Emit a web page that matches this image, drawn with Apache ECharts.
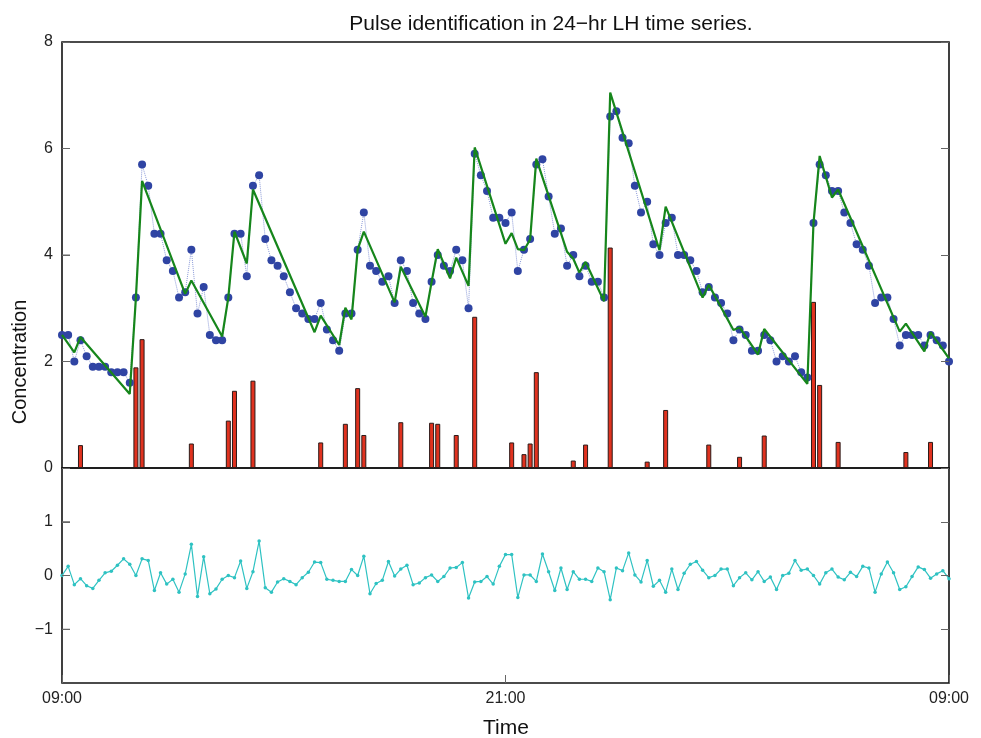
<!DOCTYPE html>
<html>
<head>
<meta charset="utf-8">
<title>Pulse identification in 24-hr LH time series</title>
<script src="https://cdn.jsdelivr.net/npm/echarts@6/dist/echarts.min.js"></script>
<style>
  html, body { margin: 0; padding: 0; background: #fff; }
  #chart { width: 981px; height: 738px; }
</style>
</head>
<body>
<div id="chart"></div>
<script>
// samples every 10 min, index 0 = 09:00, 144 = 09:00 next day
const tickLabels = ['09:00', '21:00', '09:00'];
const topTicks = [2, 4, 6];
const residTicks = [-1, 0, 1];

// observed LH concentration (blue dots)
const observed = [
  2.5, 2.5, 2.0, 2.4, 2.1, 1.9, 1.9, 1.9, 1.8, 1.8, 1.8, 1.6, 3.2, 5.7, 5.3, 4.4, 4.4, 3.9, 3.7, 3.2,
  3.3, 4.1, 2.9, 3.4, 2.5, 2.4, 2.4, 3.2, 4.4, 4.4, 3.6, 5.3, 5.5, 4.3, 3.9, 3.8, 3.6, 3.3, 3.0, 2.9,
  2.8, 2.8, 3.1, 2.6, 2.4, 2.2, 2.9, 2.9, 4.1, 4.8, 3.8, 3.7, 3.5, 3.6, 3.1, 3.9, 3.7, 3.1, 2.9, 2.8,
  3.5, 4.0, 3.8, 3.7, 4.1, 3.9, 3.0, 5.9, 5.5, 5.2, 4.7, 4.7, 4.6, 4.8, 3.7, 4.1, 4.3, 5.7, 5.8, 5.1,
  4.4, 4.5, 3.8, 4.0, 3.6, 3.8, 3.5, 3.5, 3.2, 6.6, 6.7, 6.2, 6.1, 5.3, 4.8, 5.0, 4.2, 4.0, 4.6, 4.7,
  4.0, 4.0, 3.9, 3.7, 3.3, 3.4, 3.2, 3.1, 2.9, 2.4, 2.6, 2.5, 2.2, 2.2, 2.5, 2.4, 2.0, 2.1, 2.0, 2.1,
  1.8, 1.7, 4.6, 5.7, 5.5, 5.2, 5.2, 4.8, 4.6, 4.2, 4.1, 3.8, 3.1, 3.2, 3.2, 2.8, 2.3, 2.5, 2.5, 2.5,
  2.3, 2.5, 2.4, 2.3, 2.0
];

// fitted curve, corner points [sample index, value] (green line)
const fitCorners = [
  [0, 2.50], [2, 2.17], [3, 2.46], [11, 1.39], [12, 3.20], [13, 5.39], [20, 3.27], [21, 3.52],
  [26, 2.47], [27, 3.20], [28, 4.44], [30, 3.84], [31, 5.23], [41, 2.55], [42, 2.86], [45, 2.31],
  [46, 3.01], [47, 2.79], [48, 4.10], [49, 4.44], [54, 3.11], [55, 3.78], [59, 2.84], [60, 3.49],
  [61, 4.11], [63, 3.56], [64, 3.95], [66, 3.42], [67, 6.02], [72, 4.21], [73, 4.41], [74, 4.11],
  [75, 4.09], [76, 4.29], [77, 5.81], [82, 4.06], [83, 3.93], [84, 3.67], [85, 3.87], [88, 3.13],
  [89, 7.05], [97, 4.09], [98, 4.91], [104, 3.20], [105, 3.44], [109, 2.59], [110, 2.64], [113, 2.13],
  [114, 2.61], [121, 1.58], [122, 4.60], [123, 5.86], [125, 5.08], [126, 5.23], [136, 2.56], [137, 2.71],
  [140, 2.19], [141, 2.55], [144, 2.06]
];

// identified pulses (red bars)
const pulseIndex = [3, 12, 13, 21, 27, 28, 31, 42, 46, 48, 49, 55, 60, 61, 64, 67, 73, 75, 76, 77,
  83, 85, 89, 95, 98, 105, 110, 114, 122, 123, 126, 137, 141];
const pulseSize = [0.43, 1.89, 2.42, 0.46, 0.89, 1.45, 1.64, 0.48, 0.83, 1.50, 0.62, 0.86, 0.85, 0.83, 0.62, 2.84, 0.48, 0.26, 0.46, 1.80,
  0.14, 0.44, 4.14, 0.12, 1.09, 0.44, 0.21, 0.61, 3.12, 1.56, 0.49, 0.30, 0.49];

// residuals (lower panel)
const residuals = [
  0.00, 0.17, -0.17, -0.06, -0.19, -0.24, -0.09, 0.05, 0.08, 0.19, 0.31, 0.21, 0.00, 0.31, 0.28, -0.28, 0.05, -0.16, -0.07, -0.31,
  0.03, 0.58, -0.39, 0.35, -0.34, -0.25, -0.07, 0.00, -0.04, 0.27, -0.24, 0.07, 0.64, -0.23, -0.31, -0.12, -0.06, -0.11, -0.17, -0.04,
  0.06, 0.25, 0.24, -0.07, -0.09, -0.11, -0.11, 0.11, 0.00, 0.36, -0.34, -0.15, -0.09, 0.26, -0.01, 0.12, 0.19, -0.17, -0.14, -0.04,
  0.01, -0.11, -0.02, 0.14, 0.15, 0.24, -0.42, -0.12, -0.11, -0.02, -0.16, 0.17, 0.39, 0.39, -0.41, 0.01, 0.01, -0.11, 0.40, 0.07,
  -0.28, 0.14, -0.26, 0.07, -0.07, -0.07, -0.11, 0.14, 0.07, -0.45, 0.14, 0.09, 0.42, 0.01, -0.12, 0.28, -0.20, -0.09, -0.31, 0.12,
  -0.26, 0.04, 0.21, 0.26, 0.10, -0.04, 0.00, 0.12, 0.12, -0.19, -0.04, 0.05, -0.08, 0.07, -0.11, -0.03, -0.26, 0.00, 0.04, 0.28,
  0.10, 0.12, 0.00, -0.16, 0.05, 0.12, -0.03, -0.08, 0.06, -0.02, 0.17, 0.14, -0.31, 0.03, 0.25, 0.05, -0.26, -0.21, -0.02, 0.16,
  0.11, -0.05, 0.03, 0.09, -0.06
];

const FONT = '"Liberation Sans", Arial, Helvetica, sans-serif';

const obsPairs = observed.map((v, i) => [i, v]);
const pulsePairs = pulseIndex.map((x, k) => [x, pulseSize[k]]);
const residPairs = residuals.map((v, i) => [i, v]);

function tick(extra) {
  return Object.assign({ show: true, inside: true, length: 8, lineStyle: { color: '#666', width: 1 } }, extra || {});
}
function hiddenLine() {
  return { show: false, onZero: false };
}

// short inward tick on the left frame, placed through the axis scale
function leftTick(params, api) {
  const p = api.coord([api.value(0), api.value(1)]);
  return {
    type: 'line',
    shape: { x1: p[0], y1: p[1], x2: p[0] + 8, y2: p[1] },
    style: { stroke: '#666', lineWidth: 1 }
  };
}

const chart = echarts.init(document.getElementById('chart'));

chart.setOption({
  animation: false,
  backgroundColor: '#fff',
  title: {
    text: 'Pulse identification in 24\u2212hr LH time series.',
    left: 546,
    textAlign: 'center',
    top: 9,
    textStyle: { fontFamily: FONT, fontSize: 21, fontWeight: 'normal', color: '#111' }
  },
  grid: [
    { left: 62, top: 42, width: 887, height: 426, show: true, borderColor: '#111', borderWidth: 1.6 },
    { left: 62, top: 468, width: 887, height: 215, show: true, borderColor: '#111', borderWidth: 1.6 }
  ],
  xAxis: [
    {
      type: 'value', gridIndex: 0, min: 0, max: 144, interval: 72,
      axisLine: hiddenLine(), axisTick: { show: false }, axisLabel: { show: false }, splitLine: { show: false }
    },
    {
      type: 'value', gridIndex: 1, min: 0, max: 144, interval: 72, position: 'bottom', z: 10,
      axisLine: hiddenLine(), axisTick: tick(), splitLine: { show: false },
      axisLabel: {
        margin: 8, fontFamily: FONT, fontSize: 16, color: '#222',
        showMinLabel: true, showMaxLabel: true,
        formatter: v => tickLabels[Math.round(v / 72)]
      }
    }
  ],
  yAxis: [
    {
      type: 'value', gridIndex: 0, min: 0, max: 8, interval: 2, position: 'left', z: 10,
      axisLine: hiddenLine(), axisTick: tick(), splitLine: { show: false },
      axisLabel: { margin: 9, fontFamily: FONT, fontSize: 16, color: '#222' }
    },
    {
      type: 'value', gridIndex: 0, min: 0, max: 8, interval: 2, position: 'right', z: 10,
      axisLine: hiddenLine(), axisTick: tick(), splitLine: { show: false }, axisLabel: { show: false }
    },
    {
      type: 'value', gridIndex: 1, min: -2, max: 2, interval: 1, position: 'left', z: 10,
      axisLine: hiddenLine(), splitLine: { show: false },
      axisTick: tick({ customValues: residTicks }),
      axisLabel: {
        margin: 9, fontFamily: FONT, fontSize: 16, color: '#222',
        formatter: v => (Math.abs(v) === 2 ? '' : (v < 0 ? '\u2212' + Math.abs(v) : String(v)))
      }
    },
    {
      type: 'value', gridIndex: 1, min: -2, max: 2, interval: 1, position: 'right', z: 10,
      axisLine: hiddenLine(), splitLine: { show: false }, axisLabel: { show: false },
      axisTick: tick({ customValues: residTicks })
    }
  ],
  graphic: [
    {
      type: 'text', x: 20, y: 362, rotation: Math.PI / 2,
      style: { text: 'Concentration', font: '20px ' + FONT, fill: '#111', align: 'center', verticalAlign: 'middle', textAlign: 'center', textVerticalAlign: 'middle' }
    },
    {
      type: 'text', x: 506, y: 728,
      style: { text: 'Time', font: '21px ' + FONT, fill: '#111', align: 'center', verticalAlign: 'middle', textAlign: 'center', textVerticalAlign: 'middle' }
    }
  ],
  series: [
    {
      name: 'pulses', type: 'bar', xAxisIndex: 0, yAxisIndex: 0,
      data: pulsePairs, barWidth: 5, z: 2,
      itemStyle: { color: '#e0321f', borderColor: '#2b1a18', borderWidth: 1 }
    },
    {
      name: 'observed link', type: 'line', xAxisIndex: 0, yAxisIndex: 0,
      data: obsPairs, symbol: 'none', z: 3,
      lineStyle: { color: '#5a6fc8', width: 1, type: 'dotted', opacity: 0.7 }
    },
    {
      name: 'observed', type: 'scatter', xAxisIndex: 0, yAxisIndex: 0,
      data: obsPairs, symbolSize: 8, z: 4,
      itemStyle: { color: '#2f44a3', opacity: 1 }
    },
    {
      name: 'fit', type: 'line', xAxisIndex: 0, yAxisIndex: 0,
      data: fitCorners, symbol: 'none', z: 5,
      lineStyle: { color: '#16861b', width: 2.2 }
    },
    {
      name: 'residual', type: 'line', xAxisIndex: 1, yAxisIndex: 2,
      data: residPairs, symbol: 'circle', symbolSize: 3.5, z: 3,
      itemStyle: { color: '#2ec2c2' },
      lineStyle: { color: '#2ec2c2', width: 1.2 }
    },
    {
      name: 'left ticks top', type: 'custom', xAxisIndex: 0, yAxisIndex: 0, z: 10, silent: true,
      data: topTicks.map(v => [0, v]), renderItem: leftTick
    },
    {
      name: 'left ticks resid', type: 'custom', xAxisIndex: 1, yAxisIndex: 2, z: 10, silent: true,
      data: residTicks.map(v => [0, v]), renderItem: leftTick
    }
  ]
});
</script>
</body>
</html>
